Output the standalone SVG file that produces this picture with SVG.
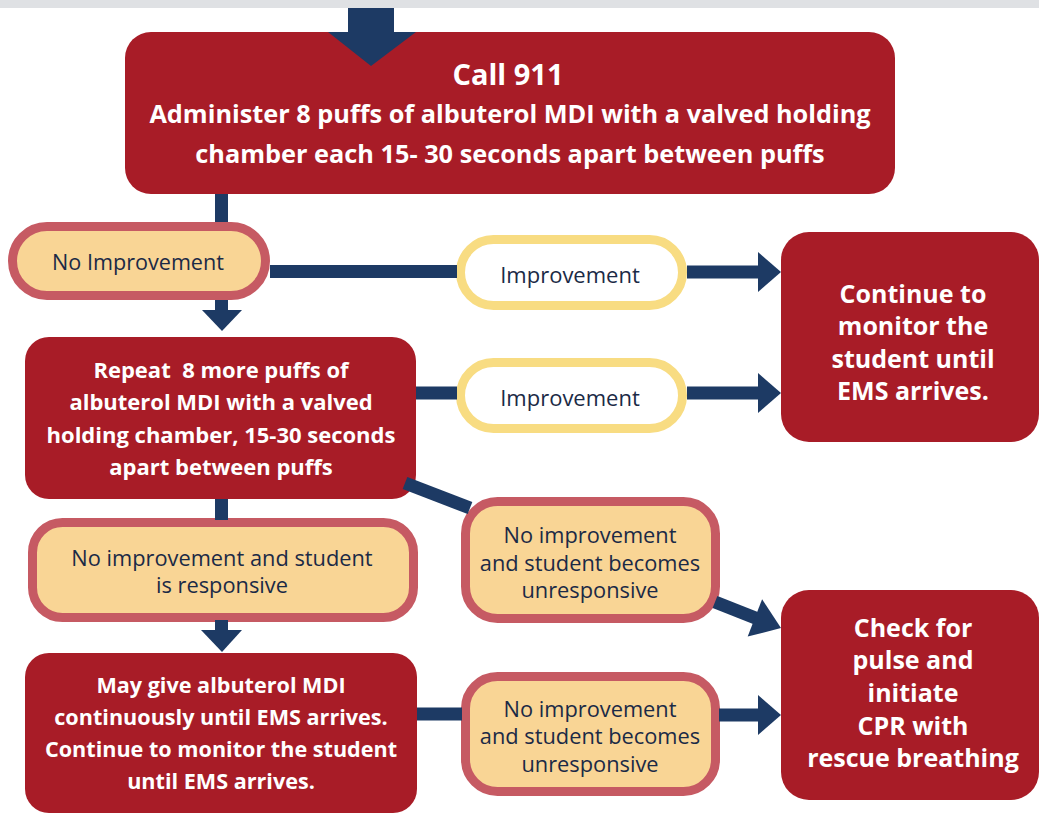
<svg xmlns="http://www.w3.org/2000/svg" width="1039" height="814" viewBox="0 0 1039 814">
<style>
.box{fill:#a81c27}
.pill{fill:#f9d595;stroke:#c65a63;stroke-width:9}
.imp{fill:#ffffff;stroke:#f8dc82;stroke-width:9}
.wt{fill:#ffffff;font-family:"Open Sans",Lato,sans-serif;font-weight:bold;text-anchor:middle}
.nt{fill:#1b2a46;font-family:"Open Sans",Lato,sans-serif;font-weight:500;text-anchor:middle}
.ln{stroke:#1d3a64;stroke-width:13;fill:none}
.ah{fill:#1d3a64}
</style>
<rect x="0" y="0" width="1039" height="814" fill="#ffffff"/>
<rect x="0" y="0" width="1039" height="8" fill="#dfe1e4"/>
<g id="node-top">
<rect class="box" x="125" y="32" width="770" height="162" rx="26"/>
<text class="wt" x="508" y="85" font-size="29">Call 911</text>
<text class="wt" x="510" y="123" font-size="25.3">Administer 8 puffs of albuterol MDI with a valved holding</text>
<text class="wt" x="510" y="163" font-size="25.3">chamber each 15- 30 seconds apart between puffs</text>
</g>
<g id="node-noimp1">
<rect class="pill" x="12.5" y="226.5" width="253" height="69" rx="34.5"/>
<text class="nt" x="138" y="270" font-size="21.6">No Improvement</text>
</g>
<g id="node-imp1">
<rect class="imp" x="460.5" y="239.5" width="222" height="66" rx="33"/>
<text class="nt" x="570" y="283" font-size="22">Improvement</text>
</g>
<g id="node-continue">
<rect class="box" x="781" y="232" width="258" height="210" rx="28"/>
<text class="wt" x="913" y="303" font-size="25">Continue to</text>
<text class="wt" x="913" y="335" font-size="25">monitor the</text>
<text class="wt" x="913" y="368" font-size="25">student until</text>
<text class="wt" x="913" y="400" font-size="25">EMS arrives.</text>
</g>
<g id="node-repeat">
<rect class="box" x="25" y="337" width="391" height="162" rx="24"/>
<text class="wt" x="221" y="378" font-size="22" style="white-space:pre">Repeat  8 more puffs of</text>
<text class="wt" x="221" y="410" font-size="22">albuterol MDI with a valved</text>
<text class="wt" x="221" y="443" font-size="22">holding chamber, 15-30 seconds</text>
<text class="wt" x="221" y="475" font-size="22">apart between puffs</text>
</g>
<g id="node-imp2">
<rect class="imp" x="460.5" y="362.5" width="222" height="66" rx="33"/>
<text class="nt" x="570" y="406" font-size="22">Improvement</text>
</g>
<g id="node-responsive">
<rect class="pill" x="32.5" y="522.5" width="381" height="95" rx="30"/>
<text class="nt" x="222" y="566" font-size="21.8">No improvement and student</text>
<text class="nt" x="222" y="593" font-size="21.8">is responsive</text>
</g>
<g id="node-unresp1">
<rect class="pill" x="465.5" y="501.5" width="250" height="117" rx="32"/>
<text class="nt" x="590" y="543" font-size="21.8">No improvement</text>
<text class="nt" x="590" y="571" font-size="21.8">and student becomes</text>
<text class="nt" x="590" y="598" font-size="21.8">unresponsive</text>
</g>
<g id="node-maygive">
<rect class="box" x="25" y="653" width="392" height="160" rx="24"/>
<text class="wt" x="221" y="693" font-size="21.6">May give albuterol MDI</text>
<text class="wt" x="221" y="725" font-size="21.6">continuously until EMS arrives.</text>
<text class="wt" x="221" y="757" font-size="21.6">Continue to monitor the student</text>
<text class="wt" x="221" y="789" font-size="21.6">until EMS arrives.</text>
</g>
<g id="node-unresp2">
<rect class="pill" x="465.5" y="676.5" width="250" height="115" rx="32"/>
<text class="nt" x="590" y="717" font-size="21.8">No improvement</text>
<text class="nt" x="590" y="744" font-size="21.8">and student becomes</text>
<text class="nt" x="590" y="772" font-size="21.8">unresponsive</text>
</g>
<g id="node-cpr">
<rect class="box" x="781" y="590" width="258" height="210" rx="28"/>
<text class="wt" x="913" y="637" font-size="25">Check for</text>
<text class="wt" x="913" y="669" font-size="25">pulse and</text>
<text class="wt" x="913" y="702" font-size="25">initiate</text>
<text class="wt" x="913" y="735" font-size="25">CPR with</text>
<text class="wt" x="913" y="767" font-size="25">rescue breathing</text>
</g>
<g id="connectors">
<rect class="ah" x="348" y="8" width="46" height="25"/>
<polygon class="ah" points="328,32 416,32 371,66"/>
<line class="ln" x1="221.5" y1="194" x2="221.5" y2="222"/>
<line class="ln" x1="270" y1="271.5" x2="457" y2="271.5"/>
<line class="ln" x1="221.5" y1="300" x2="221.5" y2="312"/>
<polygon class="ah" points="202,310 242,310 222,331"/>
<line class="ln" x1="687" y1="272" x2="760" y2="272" stroke-width="14"/>
<polygon class="ah" points="758,252 781,272 758,292"/>
<line class="ln" x1="416" y1="393" x2="457" y2="393" stroke-width="14"/>
<line class="ln" x1="687" y1="393" x2="760" y2="393" stroke-width="14"/>
<polygon class="ah" points="758,373 781,393 758,413"/>
<line class="ln" x1="405" y1="483" x2="470" y2="508"/>
<line class="ln" x1="715" y1="602" x2="758" y2="619"/>
<polygon class="ah" points="747.7,636.6 762.1,599.2 781,628"/>
<line class="ln" x1="221.5" y1="499" x2="221.5" y2="520"/>
<line class="ln" x1="221.5" y1="620" x2="221.5" y2="632"/>
<polygon class="ah" points="201,630 242,630 222,652"/>
<line class="ln" x1="417" y1="714" x2="462" y2="714"/>
<line class="ln" x1="719" y1="715" x2="760" y2="715"/>
<polygon class="ah" points="758,695 781,715 758,735"/>
</g>
</svg>
